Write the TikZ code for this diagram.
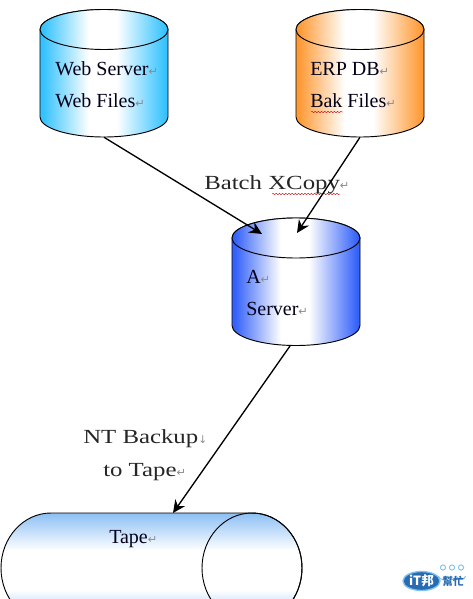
\documentclass[tikz,border=0pt]{standalone}
\usepackage{fontspec}
\setmainfont{Liberation Serif}
\newfontfamily\widefont[FakeStretch=1.24]{Liberation Serif}
\newfontfamily\markfont{DejaVu Sans}
\newfontfamily\cjkfont{Noto Sans CJK TC}
\usetikzlibrary{arrows.meta,decorations.pathmorphing}
\definecolor{webc}{rgb}{0.20,0.76,1.00}
\definecolor{erpc}{rgb}{1.00,0.60,0.20}
\definecolor{srvc}{rgb}{0.20,0.38,0.98}
\definecolor{tapec}{rgb}{0.55,0.75,0.96}
\definecolor{logoc}{rgb}{0.16,0.42,0.70}
\definecolor{logol}{rgb}{0.50,0.76,0.93}
\pgfdeclareverticalshading{tapeshade}{100bp}{
  color(0bp)=(tapec); color(25bp)=(tapec); color(40bp)=(white);
  color(58bp)=(white); color(75bp)=(tapec); color(100bp)=(tapec)}
\pgfdeclarehorizontalshading{webshade}{100bp}{
  color(0bp)=(webc); color(26bp)=(webc); color(44bp)=(white);
  color(55bp)=(white); color(74bp)=(webc); color(100bp)=(webc)}
\pgfdeclarehorizontalshading{erpshade}{100bp}{
  color(0bp)=(erpc); color(26bp)=(erpc); color(44bp)=(white);
  color(55bp)=(white); color(74bp)=(erpc); color(100bp)=(erpc)}
\pgfdeclarehorizontalshading{srvshade}{100bp}{
  color(0bp)=(srvc); color(26bp)=(srvc); color(44bp)=(white);
  color(55bp)=(white); color(74bp)=(srvc); color(100bp)=(srvc)}
\newcommand{\pmark}{{\markfont\fontsize{8.5pt}{8.5pt}\selectfont\color{black!45}↵}}
\newcommand{\dmark}{{\markfont\fontsize{8pt}{8pt}\selectfont\color{black!45}↓}}
\newcommand{\cyl}[4]{% name, centre x, top ellipse centre y, shading
  \path[draw=black,line width=0.7pt,shading=#4]
    (#2-64,#3) -- ++(0,87.5)
    arc[start angle=180,end angle=0,x radius=64,y radius=20]
    -- ++(0,-87.5)
    arc[start angle=0,end angle=-180,x radius=64,y radius=20] -- cycle;
  \path[draw=black,line width=0.7pt,shading=#4]
    (#2,#3) ellipse[x radius=64,y radius=20];
  \node[shapebox] (#1) at (#2,#3+43.75) {};
}
\tikzset{
  shapebox/.style={inner sep=0pt,outer sep=0pt,minimum width=96pt,minimum height=96pt},
  lbl/.style={anchor=base west,inner sep=0pt,font=\fontsize{15pt}{15pt}\selectfont,text=black!90!blue},
  wlbl/.style={anchor=base west,inner sep=0pt,font=\widefont\fontsize{15pt}{15pt}\selectfont,text=black!85},
  conn/.style={draw=black,line width=1pt,-{Stealth[length=9.5pt,width=9pt]}},
  wavy/.style={draw=red!75!black,line width=0.3pt,decorate,decoration={snake,amplitude=0.5pt,segment length=2.4pt}}
}
\begin{document}
\begin{tikzpicture}[x=0.75pt,y=-0.75pt]
\useasboundingbox (0,0) rectangle (472,599);
\fill[white] (0,0) rectangle (472,599);
\clip (0,0) rectangle (472,599);

\cyl{web}{104}{29.5}{webshade}
\cyl{erp}{360}{29.5}{erpshade}
\cyl{asrv}{296}{238}{srvshade}

% tape
\path[draw=black,line width=0.7pt,shading=tapeshade]
  (51,513) -- (252,513) arc[start angle=-90,end angle=90,x radius=50,y radius=55]
  -- (51,623) arc[start angle=90,end angle=270,x radius=50,y radius=55] -- cycle;
\draw[black,line width=0.7pt] (252,568) ellipse[x radius=50,y radius=55];
\coordinate (tapetop) at (173,513);
\coordinate (atgtl) at (262,234);
\coordinate (atgtr) at (297,233);
\coordinate (asrcb) at (290,346);

% labels
\node[lbl] (t1) at (55,76) {Web Server\pmark};
\node[lbl] (t2) at (55,108) {Web Files\pmark};
\node[lbl] (t3) at (310,76) {ERP DB\pmark};
\node[lbl] (t4) at (310,108) {Bak Files\pmark};
\node[lbl] (t5) at (246,283) {A\pmark};
\node[lbl] (t6) at (246,315) {Server\pmark};
\node[lbl] (t7) at (109,543) {Tape\pmark};
\node[wlbl] (t8) at (204,190) {Batch XCopy\pmark};
\node[wlbl] (t9) at (83,443) {NT Backup\dmark};
\node[wlbl] (t10) at (103,476) {to Tape\pmark};
\path[wavy] (311,112) -- (343,112);
\path[wavy] (272,194) -- (340,194);

% connectors
\draw[conn] (web.south) -- (atgtl);
\draw[conn] (erp.south) -- (atgtr);
\draw[conn] (asrcb) -- (tapetop);

% logo
\foreach \lx in {443,452,461}{
  \draw[logol,line width=0.7pt] (\lx,567.5) circle[radius=2.6];
  \draw[logol,line width=0.7pt] (\lx-4.5,576) arc[start angle=180,end angle=0,x radius=4.5,y radius=3.5];
}
\path[fill=logoc,draw=logol,line width=1pt] (421.5,581) ellipse[x radius=18.5,y radius=9.5];
\node[inner sep=0pt,text=white,font=\cjkfont\bfseries\fontsize{9.5pt}{9.5pt}\selectfont] (logoa) at (421.5,581) {iT邦};
\node[inner sep=0pt,text=logoc,font=\cjkfont\bfseries\fontsize{8pt}{8pt}\selectfont] (logob) at (453,581) {幫忙};
\end{tikzpicture}
\end{document}
